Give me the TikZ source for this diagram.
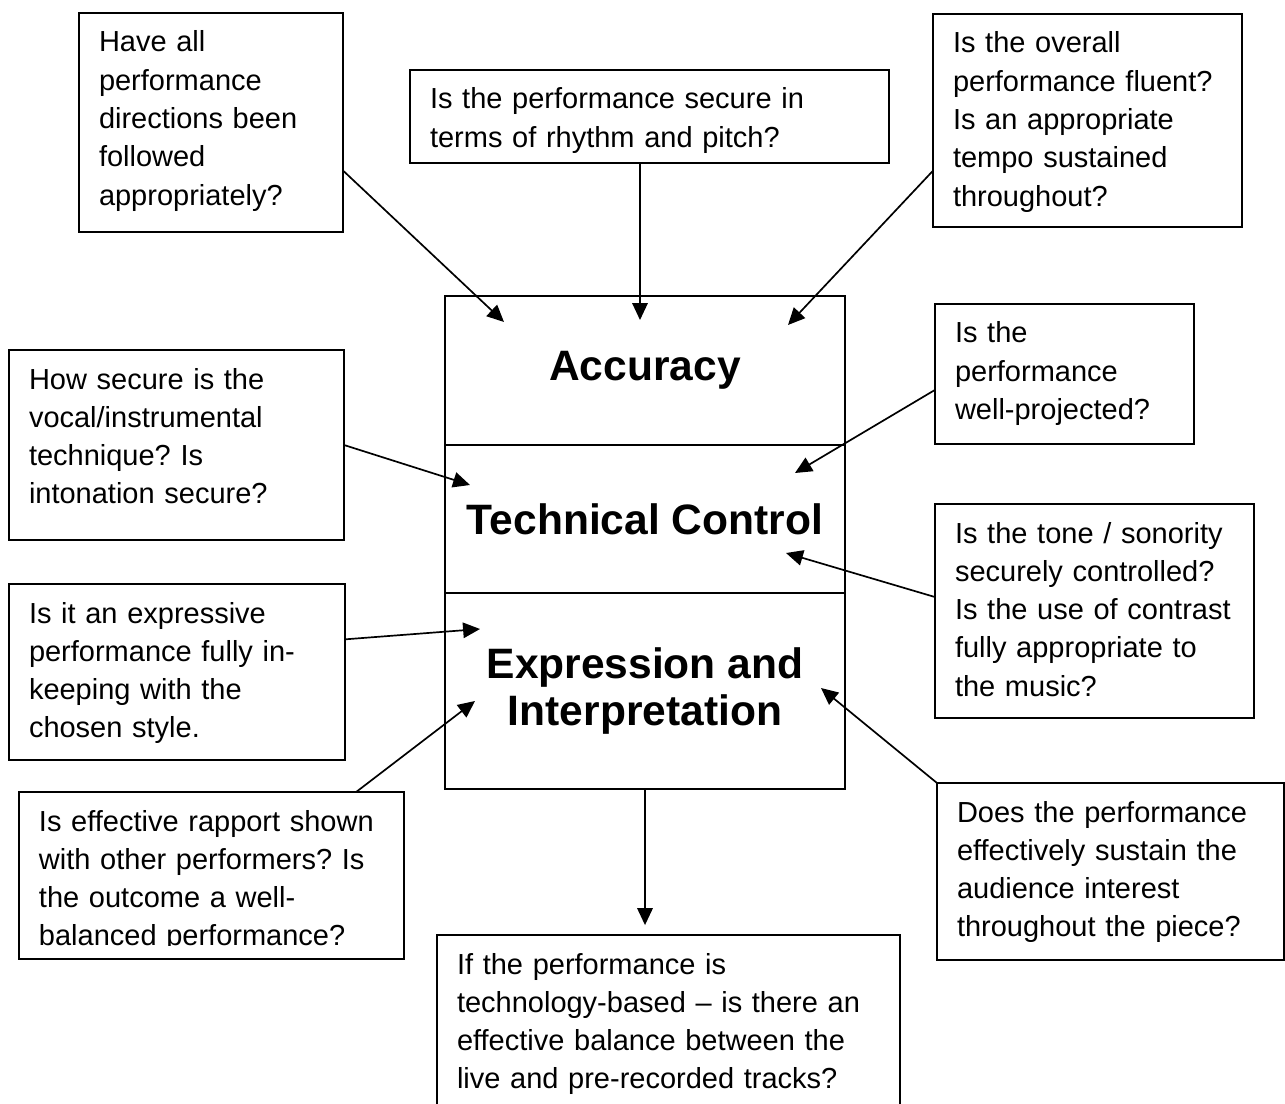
\documentclass[tikz,border=0pt]{standalone}
\usepackage{fontspec}
\setmainfont{Liberation Sans}
\usepackage{tikz}
\usetikzlibrary{
  arrows.meta,
  positioning
}
\frenchspacing
\definecolor{ink}{HTML}{000000}
\newcommand{\px}{0.4138pt}
\tikzset{
  question/.style={
    draw=ink,
    line width=0.8pt,
    outer sep=0pt,
    anchor=north west,
    align=left,
    inner xsep=20*\px,
    inner ysep=13*\px,
    font=\fontsize{12pt}{15.85pt}\selectfont
  },
  qsize/.code 2 args={%
    \pgfmathsetlengthmacro\qboxmw{#1*\px}%
    \pgfmathsetlengthmacro\qboxw{(#1-40)*\px}%
    \pgfmathsetlengthmacro\qboxh{26*\px}%
    \pgfmathsetlengthmacro\qboxd{(#2-52)*\px}%
    \pgfkeysalso{minimum width=\qboxmw, text width=\qboxw,
      text height=\qboxh, text depth=\qboxd}%
  },
  criterion/.style={
    draw=ink,
    line width=1.2pt,
    outer sep=0pt,
    minimum width=400*\px,
    align=center,
    font=\fontsize{17.6pt}{19.65pt}\selectfont\bfseries
  },
  pointer/.style={
    -{Triangle[length=7pt,width=6.4pt]},
    line width=0.7pt,
    draw=ink
  }
}

\begin{document}
\begin{tikzpicture}[x=\px, y=-\px]
  \useasboundingbox (0,0) rectangle (1285,1104);
  \clip (0,0) rectangle (1285,1104);
  \fill[white] (0,0) rectangle (1285,1104);

  \node[criterion, anchor=north west, minimum height=149*\px] (acc) at (445,296) {Accuracy};
  \node[criterion, minimum height=148*\px, below=0pt of acc] (tec) {Technical Control};
  \node[criterion, minimum height=196*\px, below=0pt of tec] (exp) {Expression and\\Interpretation};

  \node[question, qsize={264}{219}] (dir) at (79,13) {Have all\\performance\\directions been\\followed\\appropriately?};
  \node[question, qsize={479}{93}] (rhy) at (410,70) {Is the performance secure in\\terms of rhythm and pitch?};
  \node[question, qsize={309}{213}] (flu) at (933,14) {Is the overall\\performance fluent?\\Is an appropriate\\tempo sustained\\throughout?};
  \node[question, qsize={259}{140}] (prj) at (935,304) {Is the\\performance\\well-projected?};
  \node[question, qsize={335}{190}] (ins) at (9,350) {How secure is the\\vocal/instrumental\\technique? Is\\intonation secure?};
  \node[question, qsize={319}{214}] (ton) at (935,504) {Is the tone / sonority\\securely controlled?\\Is the use of contrast\\fully appropriate to\\the music?};
  \node[question, qsize={336}{176}] (sty) at (9,584) {Is it an expressive\\performance fully in-\\keeping with the\\chosen style.};
  \begin{scope}
    \clip (19,792) rectangle (404,945);
    \node[question, qsize={385}{167}, draw=none] (rap) at (19,792) {Is effective rapport shown\\with other performers? Is\\the outcome a well-\\balanced performance?};
  \end{scope}
  \draw[draw=ink, line width=0.8pt] (rap.north west) rectangle (rap.south east);
  \node[question, qsize={347}{177}] (aud) at (937,783) {Does the performance\\effectively sustain the\\audience interest\\throughout the piece?};
  \node[question, qsize={463}{171}] (tch) at (437,935) {If the performance is\\technology-based – is there an\\effective balance between the\\live and pre-recorded tracks?};

  \coordinate (accL) at (504,322);
  \coordinate (accM) at (640,320);
  \coordinate (accR) at (788,325);
  \coordinate (tecL) at (470,485);
  \coordinate (tecU) at (795,473);
  \coordinate (tecD) at (786,553);
  \coordinate (expU) at (480,629);
  \coordinate (expD) at (475,701);
  \coordinate (expR) at (821,688);

  \draw[pointer] (dir.-20.6) -- (accL);
  \draw[pointer] (rhy.south -| accM) -- (accM);
  \draw[pointer] (flu.-162.2) -- (accR);
  \draw[pointer] (ins.east) -- (tecL);
  \draw[pointer] (prj.-173.8) -- (tecU);
  \draw[pointer] (ton.175.3) -- (tecD);
  \draw[pointer] (sty.11.4) -- (expU);
  \draw[pointer] (rap.30.5) -- (expD);
  \draw[pointer] (aud.north west) -- (expR);
  \draw[pointer, shorten >=4.1pt] (exp.south) -- (exp.south |- tch.north);
\end{tikzpicture}
\end{document}
